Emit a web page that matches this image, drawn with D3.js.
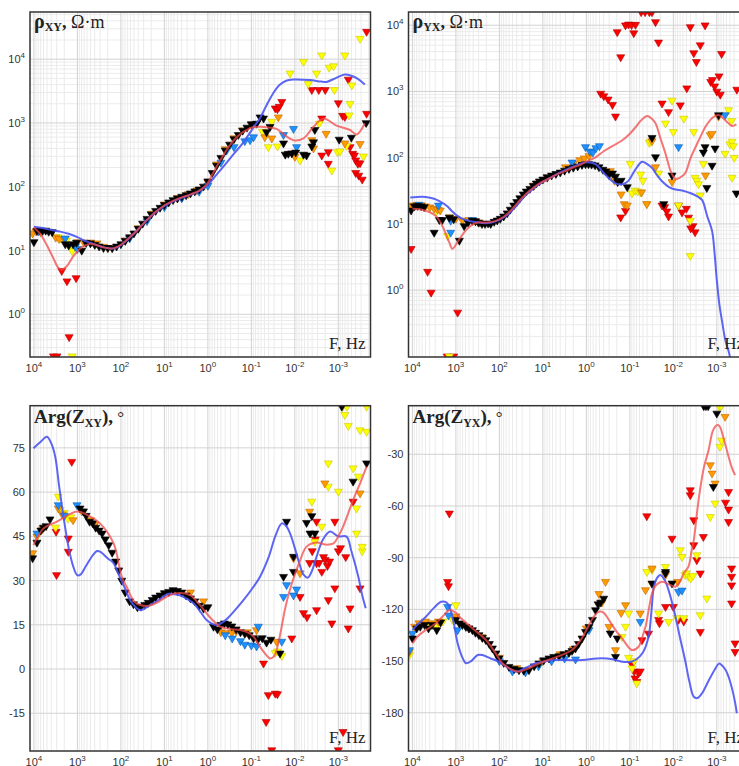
<!DOCTYPE html>
<html>
<head>
<meta charset="utf-8">
<script src="https://cdn.jsdelivr.net/npm/d3@7"></script>
<style>
  body { margin: 0; background: #fff; }
  svg { display: block; }
  .tick-label { font-family: "Liberation Sans", Arial, sans-serif; font-size: 11px; fill: #333; }
  .title { font-family: "Liberation Serif", "Times New Roman", serif; fill: #222; }
</style>
</head>
<body>
<svg id="chart" width="739" height="766"></svg>
<script>
// every point is [log10 F (Hz), value]

// ---- rho_xy, Ohm*m ----
const rhoXYBlack = [[4.0,13.6],[3.93,20.5],[3.87,20.8],[3.8,20.3],[3.73,20.6],[3.66,19.8],[3.58,19.5],[3.28,12.6],[3.2,12.0],[3.1,12.6],[3.02,13.3],[2.9,10.0],[2.8,13.2],[2.7,13.0],[2.6,12.3],[2.5,11.6],[2.4,11.0],[2.3,11.0],[2.2,10.9],[2.1,11.6],[2.0,12.6],[1.9,14.2],[1.8,16.2],[1.7,18.6],[1.6,22.0],[1.5,26.5],[1.4,31.5],[1.3,37],[1.2,42],[1.1,47],[1.0,52],[0.9,57],[0.8,62],[0.7,66],[0.6,70],[0.5,74],[0.4,79],[0.3,85],[0.2,91],[0.1,101],[0.0,122],[-0.1,165],[-0.2,215],[-0.3,285],[-0.4,370],[-0.5,460],[-0.6,560],[-0.7,650],[-0.8,760],[-0.9,850],[-1.0,960],[-1.12,980],[-1.2,1230],[-1.28,1180],[-1.35,720],[-1.43,870],[-1.74,480],[-1.78,320],[-1.85,330],[-1.93,335],[-2.02,345],[-2.2,320],[-2.27,310],[-2.39,430],[-2.43,500],[-2.46,780],[-3.02,550],[-3.3,590],[-3.64,1000]];
const rhoXYOrange = [[4.03,18.6],[3.95,20],[3.85,19.5],[3.5,16],[3.42,15.2],[3.3,15],[3.0,13.5],[2.85,13.4],[2.7,13.4],[2.55,13],[2.4,11.5],[2.3,11],[1.9,14.5],[1.6,22.5],[1.3,38],[1.0,53],[0.7,67],[0.45,77],[0.25,88],[0.0,118],[-0.2,225],[-0.4,390],[-0.6,580],[-0.8,770],[-1.0,950],[-1.31,600],[-1.47,575],[-1.62,1230],[-2.0,295],[-2.39,540],[-2.43,400],[-2.72,680],[-3.15,480],[-3.5,470]];
const rhoXYYellow = [[3.45,16.3],[3.38,15.5],[3.25,14.5],[3.17,11.5],[3.12,9.8],[3.12,0.22],[-1.26,730],[-1.39,420],[-1.47,1050],[-1.6,430],[-1.89,6000],[-2.12,260],[-2.2,9100],[-2.31,4100],[-2.5,6000],[-2.56,980],[-2.62,11500],[-2.79,7400],[-2.85,180],[-2.89,7800],[-2.91,3300],[-2.98,350],[-3.04,360],[-3.15,11500],[-3.19,440],[-3.25,1320],[-3.27,2000],[-3.31,3900],[-3.5,21000],[-3.58,300]];
const rhoXYBlue = [[3.9,20],[3.28,15.5],[3.05,11.5],[3.0,10.6],[1.8,15.5],[1.4,29],[1.0,48],[0.6,66],[0.2,84],[0.0,104],[-0.3,240],[-0.43,370],[-0.6,420],[-0.85,520],[-0.97,540],[-1.05,600],[-1.74,650],[-1.97,810],[-2.04,420]];
const rhoXYRed = [[3.36,4.8],[3.24,3.3],[3.03,3.7],[3.19,0.44],[3.55,0.22],[3.47,0.22],[-1.55,1700],[-1.6,1650],[-1.64,1800],[-1.7,2150],[-2.39,3300],[-2.55,3300],[-2.7,3300],[-2.62,1180],[-2.62,310],[-2.77,350],[-2.77,230],[-3.0,2050],[-3.1,1300],[-3.15,1250],[-3.23,4800],[-3.27,420],[-3.33,330],[-3.37,310],[-3.4,260],[-3.45,230],[-3.5,235],[-3.4,165],[-3.47,150],[-3.55,130],[-3.65,1400],[-3.65,27000]];
const rhoXYCurveBlue = [[4.0,23.6],[3.8,22.5],[3.6,21],[3.4,19.8],[3.2,18.3],[3.0,16.2],[2.86,14.5],[2.7,13.2],[2.5,11.8],[2.3,10.9],[2.2,10.7],[2.1,11.1],[2.0,12.1],[1.8,15.8],[1.6,21.5],[1.4,30],[1.2,40],[1.0,50],[0.8,59],[0.6,67],[0.4,75],[0.2,85],[0.0,108],[-0.2,155],[-0.4,225],[-0.6,330],[-0.8,480],[-1.05,850],[-1.2,1200],[-1.35,1900],[-1.5,2900],[-1.64,3900],[-1.8,4600],[-1.97,4800],[-2.35,4700],[-2.6,4450],[-2.73,4400],[-2.95,5100],[-3.15,5750],[-3.3,5500],[-3.45,4900],[-3.61,4000]];
const rhoXYCurveRed = [[4.0,23],[3.85,18],[3.7,12],[3.55,7.5],[3.45,5.5],[3.36,5.0],[3.25,5.6],[3.1,8],[2.95,10.6],[2.85,11.8],[2.7,12.8],[2.6,12.4],[2.5,11.8],[2.4,11.2],[2.3,10.9],[2.2,10.8],[2.1,11.3],[2.0,12.3],[1.9,14],[1.8,16],[1.7,18.5],[1.6,21.5],[1.5,25.5],[1.4,30],[1.3,35],[1.2,40.5],[1.1,45.5],[1.0,51],[0.8,60],[0.6,68],[0.4,76],[0.2,87],[0.1,97],[0.0,115],[-0.1,155],[-0.2,205],[-0.3,270],[-0.4,350],[-0.5,440],[-0.6,540],[-0.7,630],[-0.8,710],[-0.9,780],[-1.0,840],[-1.2,870],[-1.4,850],[-1.58,810],[-1.8,620],[-1.97,535],[-2.2,575],[-2.43,870],[-2.66,1175],[-2.96,910],[-3.27,775],[-3.42,660],[-3.61,980]];

// ---- rho_yx, Ohm*m ----
const rhoYXBlack = [[4.03,16],[3.95,18.5],[3.88,18.8],[3.8,18.5],[3.73,18],[3.5,7.4],[3.38,11.5],[3.31,11.5],[3.15,12.5],[3.05,11.8],[2.92,5.6],[2.81,9.3],[2.72,10.5],[2.62,11.2],[2.55,11],[2.48,10.5],[2.4,10],[2.33,10],[2.26,10.2],[2.2,10],[2.12,10.8],[2.05,11.3],[1.98,12],[1.9,13],[1.82,14.5],[1.75,16.5],[1.67,19],[1.6,21.5],[1.53,24.5],[1.45,28],[1.38,31],[1.3,34],[1.22,37.5],[1.15,41],[1.08,44],[1.0,47],[0.9,51],[0.8,54],[0.7,57],[0.6,60],[0.5,64],[0.4,68],[0.3,71],[0.2,74],[0.1,78],[0.02,80],[-0.05,80],[-0.12,79],[-0.2,77],[-0.29,72],[-0.38,66],[-0.45,62],[-0.52,55],[-0.6,58],[-0.67,52],[-0.72,43],[-0.8,45],[-0.94,36],[-1.51,200],[-1.59,102],[-1.78,20],[-1.97,54],[-2.69,120],[-2.73,145],[-2.77,35],[-2.89,76],[-2.96,138],[-3.04,440],[-3.45,29]];
const rhoYXOrange = [[4.05,18],[3.98,19],[3.9,19.5],[3.8,19.2],[3.7,18.5],[3.6,17.8],[3.5,17],[3.42,16.5],[3.36,16],[3.15,12.6],[3.0,12],[2.85,11.2],[2.7,11.5],[2.55,11],[2.45,10.5],[1.2,38],[0.9,50],[0.48,72],[0.3,82],[0.15,92],[0.05,98],[-0.06,106],[-0.55,63],[-0.65,45],[-0.8,28],[-0.87,20],[-0.94,19],[-1.27,30],[-1.39,20],[-1.51,178],[-1.59,72],[-1.97,43],[-2.74,54],[-2.85,220],[-2.89,230],[-3.04,420]];
const rhoYXYellow = [[3.45,15.5],[3.15,12.6],[3.19,6.6],[3.15,0.1],[-1.01,81],[-1.05,29],[-1.12,32],[-1.18,31],[-1.24,30],[-1.25,56],[-1.3,45],[-1.39,20],[-1.45,167],[-1.47,175],[-1.66,58],[-1.82,330],[-1.97,730],[-2.0,245],[-2.12,19],[-2.24,390],[-2.39,11.2],[-2.39,3.3],[-2.47,245],[-2.5,50],[-2.54,45],[-2.58,40],[-2.62,27],[-2.69,81],[-3.19,115],[-3.27,525],[-3.34,360],[-3.3,160],[-3.35,175],[-3.38,150],[-3.4,100],[-3.35,50]];
const rhoYXBlue = [[3.85,19.5],[3.4,19],[3.12,11.2],[3.12,7.4],[2.62,11.5],[0.33,85],[0.02,145],[-0.08,125],[-0.15,120],[-0.22,140],[-0.3,150],[-2.12,145],[-3.19,440]];
const rhoYXRed = [[4.03,4.2],[3.65,1.9],[3.57,0.92],[2.96,0.46],[3.2,0.1],[3.05,0.1],[-0.33,930],[-0.4,850],[-0.5,760],[-0.6,630],[-0.67,420],[-0.71,7900],[-0.79,3300],[-0.79,12.6],[-0.9,10000],[-0.97,10300],[-1.04,10100],[-1.09,7600],[-1.13,10200],[-0.9,15.8],[-1.26,15800],[-1.35,15800],[-1.45,15800],[-1.51,15800],[-1.59,11200],[-1.66,5500],[-1.74,660],[-1.74,19],[-1.8,18],[-1.85,15.5],[-1.89,490],[-1.89,13],[-2.12,19],[-2.16,620],[-2.2,15],[-2.3,17],[-2.35,12.5],[-2.31,1120],[-2.39,9400],[-2.47,3800],[-2.53,2800],[-2.62,5000],[-2.73,10000],[-2.86,1400],[-2.9,1500],[-2.95,1200],[-3.0,1000],[-3.05,1700],[-3.08,900],[-3.11,3700],[-3.46,1070],[-2.45,9.3],[-2.5,7.5],[-2.4,8.6]];
const rhoYXCurveBlue = [[4.05,25],[3.9,25.5],[3.7,25.5],[3.5,24],[3.38,22],[3.2,18.5],[3.1,15.8],[2.95,13],[2.8,11.6],[2.6,10.8],[2.4,10.3],[2.2,10.4],[2.0,11.5],[1.8,14],[1.6,19],[1.4,27],[1.2,35],[1.0,43],[0.8,51],[0.6,60],[0.4,69],[0.2,78],[0.0,85],[-0.21,80],[-0.44,55],[-0.67,41],[-0.85,40],[-0.97,45],[-1.12,65],[-1.28,87],[-1.4,80],[-1.51,70],[-1.62,55],[-1.74,44],[-1.9,36],[-2.05,33],[-2.2,32],[-2.4,29],[-2.55,26],[-2.66,23],[-2.78,13],[-2.89,7.9],[-2.95,3.5],[-3.0,1.4],[-3.06,0.6],[-3.12,0.34],[-3.2,0.17],[-3.27,0.12],[-3.35,0.07]];
const rhoYXCurveRed = [[4.0,17],[3.8,16.5],[3.6,15],[3.45,13],[3.3,9],[3.15,5.2],[3.08,4.2],[2.95,5.5],[2.8,7.6],[2.65,9.5],[2.5,10.5],[2.3,10.5],[2.1,11],[1.9,12.8],[1.7,17],[1.5,24],[1.3,32],[1.1,40],[0.9,47],[0.7,55],[0.5,62],[0.3,71],[0.1,80],[0.0,88],[-0.2,100],[-0.4,125],[-0.6,150],[-0.82,182],[-1.0,230],[-1.13,288],[-1.25,360],[-1.4,425],[-1.5,390],[-1.59,330],[-1.7,200],[-1.82,115],[-1.95,60],[-2.05,48],[-2.15,50],[-2.27,58],[-2.4,100],[-2.58,180],[-2.75,300],[-2.9,400],[-3.04,440],[-3.15,390],[-3.27,330],[-3.35,300],[-3.45,320]];

// ---- Arg(Z_xy), degrees ----
const argXYBlack = [[4.03,37.6],[3.93,42.9],[3.84,47],[3.78,48],[3.72,48.5],[3.63,50.8],[2.94,54.5],[2.86,53.5],[2.8,52],[2.72,50],[2.65,49.5],[2.58,48],[2.5,47],[2.43,46],[2.36,44],[2.28,42],[2.2,39.5],[2.12,36.5],[2.05,33.5],[1.98,30],[1.9,26],[1.8,23],[1.71,22],[1.62,21],[1.54,21.2],[1.45,21.8],[1.37,22.5],[1.28,23.5],[1.2,24.3],[1.1,25],[1.0,25.8],[0.9,26.2],[0.8,26.8],[0.7,26.5],[0.6,26],[0.5,25],[0.4,24],[0.3,23],[0.2,21.5],[0.1,20.5],[0.0,21],[-0.13,14.4],[-0.22,13.5],[-0.3,15],[-0.38,15.5],[-0.46,15.2],[-0.55,14.5],[-0.65,13.5],[-0.75,12.5],[-0.85,12],[-0.95,11.5],[-1.05,10.5],[-1.15,10],[-1.25,10.5],[-1.35,9],[-1.45,10],[-1.66,5.3],[-1.74,31.3],[-1.81,50],[-1.97,38.1],[-1.97,33],[-2.27,49.6],[-2.35,46],[-2.39,51.9],[-2.46,46],[-3.08,89],[-3.34,63.6],[-3.65,69.8]];
const argXYOrange = [[4.03,39.3],[3.93,45],[3.8,47.5],[3.44,54.5],[3.35,52.5],[3.1,50.5],[2.9,53.5],[2.7,50.5],[2.6,49],[0.4,26],[0.1,23],[-0.3,12.5],[-0.4,12.2],[-0.55,12.3],[-0.65,12.8],[-0.9,12.5],[-1.12,13.2],[-1.58,9.3],[-2.12,32.5],[-1.97,37.6],[-2.34,53.4],[-2.69,63],[-3.5,59.6]];
const argXYYellow = [[3.44,58.5],[3.5,48],[3.4,54],[3.3,53],[3.22,51],[3.15,51.5],[-1.55,5.5],[-1.6,6],[-1.7,4.5],[-2.39,56.8],[-2.46,43.2],[-2.62,48.3],[-2.77,69.8],[-2.77,61.9],[-3.0,60.2],[-3.1,89],[-3.2,89],[-3.15,86.2],[-3.23,82.5],[-3.34,68.1],[-3.46,65.3],[-3.42,54.5],[-3.42,46],[-3.5,81],[-3.65,80.5],[-3.55,40],[-3.55,41.5],[-3.65,89]];
const argXYBlue = [[3.93,46],[3.44,55.6],[3.3,52],[3.01,55.6],[-0.4,11.5],[-0.56,10.4],[-0.75,9.5],[-0.85,8.3],[-1.0,8],[-1.12,7.7],[-1.16,14.4],[-1.7,9.3],[-1.74,24.5],[-1.81,28.5],[-1.97,25],[-2.04,27]];
const argXYRed = [[3.49,46.6],[3.48,31.9],[3.21,44.3],[3.21,39.8],[3.13,70.3],[-1.28,1.9],[-1.39,-8.8],[-1.55,-8.3],[-1.6,-8.5],[-1.34,-17.9],[-1.47,-27.5],[-1.93,10.4],[-2.12,24.5],[-2.2,19],[-2.28,17.6],[-2.5,20],[-2.62,33],[-2.77,23.4],[-2.85,15.5],[-2.92,27.4],[-3.23,13.8],[-3.27,20.6],[-3.5,27.4],[-3.11,-21.3],[-3.0,-27.5],[-2.5,50],[-2.92,50],[-3.34,56.8],[-2.34,36],[-2.4,40],[-2.47,44],[-2.5,35.9],[-2.56,36],[-2.66,38],[-2.7,37],[-2.75,35],[-2.8,36.5],[-3.0,40],[-3.05,41],[-3.17,38]];
const argXYCurveBlue = [[4.01,74.9],[3.85,77],[3.7,78.8],[3.6,76.5],[3.51,72],[3.42,62],[3.32,51.7],[3.2,41],[3.1,35],[3.01,31.9],[2.94,31.9],[2.8,35],[2.65,38.5],[2.55,40],[2.48,39.8],[2.3,37.5],[2.17,35.9],[2.05,32],[1.94,28.5],[1.75,22.5],[1.56,20],[1.35,21.5],[1.17,23],[0.9,25.5],[0.65,25],[0.45,23.5],[0.33,22.3],[0.15,19],[0.03,16.6],[-0.2,14.9],[-0.4,16.5],[-0.59,19.4],[-0.8,23],[-1.05,27.9],[-1.2,31.3],[-1.4,38],[-1.55,45],[-1.7,49.4],[-1.8,48.5],[-1.89,46],[-2.0,41],[-2.1,36],[-2.2,32],[-2.3,31],[-2.4,33.5],[-2.5,38.1],[-2.65,44],[-2.81,46.6],[-3.0,45],[-3.19,44.9],[-3.3,40],[-3.46,31.3],[-3.55,25],[-3.63,20.6]];
const argXYCurveRed = [[4.01,42],[3.78,47.7],[3.47,50],[3.01,53.4],[2.78,52.3],[2.48,49.4],[2.17,42.7],[1.98,31.3],[1.87,27.9],[1.7,23],[1.56,21.7],[1.35,21.5],[1.17,22.5],[0.95,24.5],[0.72,25.7],[0.41,25.1],[0.2,22],[0.03,18.9],[-0.15,16],[-0.28,14.4],[-0.5,13.6],[-0.74,13.2],[-0.9,12.5],[-1.05,11],[-1.18,8],[-1.28,5.9],[-1.43,3.6],[-1.52,4.3],[-1.6,7.5],[-1.68,13],[-1.77,20],[-1.87,26],[-1.97,30.8],[-2.1,36],[-2.27,41.5],[-2.5,42.9],[-2.7,42.2],[-2.89,42.6],[-3.0,45],[-3.11,48.3],[-3.34,57.3],[-3.5,63],[-3.65,68.6]];

// ---- Arg(Z_yx), degrees ----
const argYXBlack = [[4.0,-136.8],[3.9,-131],[3.82,-130],[3.72,-129],[3.63,-131],[3.55,-129],[3.44,-132],[3.35,-127.5],[3.0,-126],[2.92,-128.1],[2.85,-129],[2.77,-130.1],[2.7,-131],[2.62,-132],[2.55,-133.5],[2.47,-134.9],[2.39,-136.5],[2.31,-137.8],[2.23,-140],[2.16,-142.6],[2.08,-145.5],[2.01,-148.4],[1.9,-151],[1.78,-153.3],[1.66,-154.5],[1.55,-155.2],[1.44,-155.5],[1.32,-155.2],[1.2,-153],[1.09,-151.3],[0.98,-149.5],[0.86,-148.4],[0.75,-147.5],[0.63,-147.1],[0.52,-146],[0.4,-145.2],[0.33,-144],[0.25,-142.6],[0.18,-140],[0.1,-136.8],[0.02,-133],[-0.06,-130.1],[-0.14,-126],[-0.21,-120.4],[-0.27,-117],[-0.33,-116],[-0.4,-113.7],[-0.55,-133.9],[-0.71,-136.8],[-0.67,-147.5],[-1.51,-104.9],[-1.82,-99.1],[-1.97,-104.9],[-1.82,-98.2],[-2.7,-2],[-2.75,-2],[-2.8,-2],[-3.0,-6.3],[-2.92,-48.9]];
const argYXOrange = [[4.07,-144.6],[3.95,-130],[3.85,-128],[3.7,-127],[3.55,-128],[3.4,-127],[3.0,-124],[2.7,-131],[2.4,-136],[2.0,-148],[1.6,-154],[1.0,-150],[0.6,-146],[0.3,-143],[0.0,-131],[-0.29,-111],[-0.36,-116],[-0.44,-104],[-0.52,-130.1],[-0.67,-143.6],[-0.8,-122],[-0.9,-117.5],[-1.24,-122.3],[-1.36,-108.8],[-1.51,-105.2],[-1.51,-96.2],[-1.82,-100],[-2.1,-104],[-2.85,-36.3],[-2.89,-41.1],[-2.96,-46.9],[-3.19,-8.2]];
const argYXYellow = [[4.07,-146.5],[3.57,-129.1],[3.45,-130],[3.3,-127],[3.08,-126],[3.0,-117.5],[-0.82,-135.9],[-0.9,-130],[-0.97,-122.3],[-0.97,-148],[-1.05,-154.2],[-1.16,-162.9],[-1.1,-150],[-1.39,-98.2],[-1.51,-97],[-1.66,-122.3],[-1.82,-95.3],[-1.89,-127.2],[-2.08,-125],[-2.16,-85.6],[-2.2,-89.5],[-2.24,-125],[-2.27,-100],[-2.3,-99],[-2.35,-101],[-2.4,-102],[-2.45,-100.5],[-2.54,-88.5],[-2.62,-123.3],[-2.77,-113.6],[-2.85,-66.3],[-2.96,-58.5],[-3.07,-25.6],[-3.11,-22],[-3.05,-2],[-3.1,-2]];
const argYXBlue = [[4.07,-143.6],[4.0,-134],[3.19,-118.5],[3.17,-123.5],[2.96,-132],[2.0,-150],[1.7,-156],[1.4,-156.5],[1.1,-153],[0.8,-150],[0.5,-148.5],[0.25,-149],[-0.06,-132],[-1.24,-127.2],[-2.12,-109.8],[-2.2,-109]];
const argYXRed = [[3.15,-64.3],[3.19,-104],[3.17,-106.5],[-1.39,-65.9],[-1.97,-78.9],[-2.39,-50.8],[-2.39,-53.7],[-2.47,-68.2],[-2.47,-82.7],[-2.54,-91.4],[-2.62,-99.1],[-2.69,-77.9],[-3.27,-51.8],[-3.2,-58],[-3.27,-62],[-3.27,-69.2],[-3.34,-96.2],[-1.05,-152],[-1.1,-156],[-1.16,-162],[-1.2,-157],[-1.12,-160],[-1.24,-156],[-1.28,-137.8],[-1.43,-134],[-1.66,-126],[-1.68,-128],[-1.82,-118.5],[-2.0,-118.5],[-2.12,-126],[-2.24,-127],[-2.62,-133],[-3.34,-101],[-3.34,-106],[-3.34,-116.5],[-3.42,-139.7],[-3.42,-144.6]];
const argYXCurveBlue = [[4.0,-132],[3.85,-128],[3.69,-124.3],[3.5,-119],[3.34,-115.6],[3.22,-116],[3.15,-118.5],[3.05,-128],[2.96,-139.7],[2.85,-148],[2.77,-151.3],[2.65,-150],[2.5,-146.5],[2.39,-146.5],[2.2,-148.5],[2.01,-150.4],[1.8,-154],[1.62,-156.2],[1.4,-154],[1.17,-151.3],[0.9,-150],[0.71,-149.4],[0.2,-149.5],[-0.36,-148.4],[-0.6,-149],[-0.82,-150.4],[-1.0,-150.5],[-1.13,-149.4],[-1.3,-145],[-1.43,-135.9],[-1.5,-120],[-1.55,-107],[-1.62,-102],[-1.7,-100.1],[-1.8,-103],[-1.89,-108.8],[-1.97,-116],[-2.05,-124.3],[-2.15,-136],[-2.27,-149.4],[-2.37,-162],[-2.47,-170.7],[-2.55,-171.5],[-2.66,-168.7],[-2.8,-162],[-2.95,-155],[-3.05,-151.5],[-3.11,-152.3],[-3.2,-155],[-3.27,-159.1],[-3.35,-166],[-3.42,-174],[-3.46,-180.3]];
const argYXCurveRed = [[4.0,-139.7],[3.85,-135],[3.69,-132],[3.46,-128.1],[3.3,-124],[3.15,-120.4],[3.0,-122],[2.92,-124.3],[2.62,-131],[2.31,-137.8],[2.1,-145],[1.93,-151.3],[1.75,-154.5],[1.55,-156.2],[1.35,-154.5],[1.17,-152.3],[0.95,-150],[0.71,-147.9],[0.33,-143.6],[0.15,-138.5],[0.02,-133],[-0.15,-125],[-0.29,-121.4],[-0.4,-122],[-0.52,-126.2],[-0.67,-132],[-0.82,-136.8],[-1.05,-143.6],[-1.2,-141.7],[-1.3,-135],[-1.36,-130.1],[-1.45,-118],[-1.51,-110.7],[-1.6,-106],[-1.74,-104],[-1.9,-105.5],[-2.05,-106.9],[-2.15,-104],[-2.24,-99.1],[-2.35,-95],[-2.42,-86],[-2.47,-79.8],[-2.58,-56.6],[-2.7,-38],[-2.81,-27.6],[-2.9,-17],[-2.96,-14],[-3.02,-13],[-3.07,-14],[-3.17,-22],[-3.27,-31.4],[-3.35,-38],[-3.42,-42.1]];

// tick values
const freqTicks = [4, 3, 2, 1, 0, -1, -2, -3];
const rhoTicks = [0, 1, 2, 3, 4];
const argXYTicks = [-15, 0, 15, 30, 45, 60, 75];
const argYXTicks = [-180, -150, -120, -90, -60, -30];

const colors = {
  red: ["#ff0000", "#b00000"],
  yellow: ["#ffff00", "#c8c800"],
  orange: ["#ff9a00", "#c06800"],
  blue: ["#1e90ff", "#0b5fb0"],
  black: ["#000000", "#000000"]
};

const W = 340.5;
const xDomain = [10 ** 4.09, 10 ** -3.74];

const panels = [
  { left: 30, top: 12, h: 345, log: true, yDomain: [10 ** -0.67, 10 ** 4.74], yTicks: rhoTicks, title: "rho", sub: "XY",
    markers: [["red", rhoXYRed], ["yellow", rhoXYYellow], ["orange", rhoXYOrange], ["blue", rhoXYBlue], ["black", rhoXYBlack]],
    curves: [rhoXYCurveBlue, rhoXYCurveRed] },
  { left: 408.5, top: 12, h: 345, log: true, yDomain: [10 ** -1.01, 10 ** 4.2], yTicks: rhoTicks, title: "rho", sub: "YX",
    markers: [["red", rhoYXRed], ["yellow", rhoYXYellow], ["orange", rhoYXOrange], ["blue", rhoYXBlue], ["black", rhoYXBlack]],
    curves: [rhoYXCurveBlue, rhoYXCurveRed] },
  { left: 30, top: 405.7, h: 345.3, log: false, yDomain: [-27.8, 89.3], yTicks: argXYTicks, title: "arg", sub: "XY",
    markers: [["red", argXYRed], ["yellow", argXYYellow], ["orange", argXYOrange], ["blue", argXYBlue], ["black", argXYBlack]],
    curves: [argXYCurveBlue, argXYCurveRed] },
  { left: 408.5, top: 405.7, h: 345.3, log: false, yDomain: [-202.2, -1.8], yTicks: argYXTicks, title: "arg", sub: "YX",
    markers: [["red", argYXRed], ["yellow", argYXYellow], ["orange", argYXOrange], ["blue", argYXBlue], ["black", argYXBlack]],
    curves: [argYXCurveBlue, argYXCurveRed] }
];

const svg = d3.select("#chart");
const tri = d3.symbol(d3.symbolTriangle, 28)();

function powLabel(sel, exp) {
  sel.append("tspan").text("10");
  sel.append("tspan").attr("font-size", 8).attr("dy", -5).text(exp);
}

panels.forEach((p, i) => {
  const g = svg.append("g").attr("transform", `translate(${p.left},${p.top})`);
  const x = d3.scaleLog().domain(xDomain).range([0, W]);
  const y = p.log
    ? d3.scaleLog().domain(p.yDomain).range([p.h, 0])
    : d3.scaleLinear().domain(p.yDomain).range([p.h, 0]);

  // grid
  const minorX = [];
  for (let k = -4; k <= 4; k++) for (let m = 2; m <= 9; m++) minorX.push(m * 10 ** k);
  const inX = v => v <= xDomain[0] && v >= xDomain[1];
  g.append("g").selectAll("line")
    .data(minorX.filter(inX))
    .join("line")
      .attr("x1", d => x(d)).attr("x2", d => x(d))
      .attr("y1", 0).attr("y2", p.h)
      .attr("stroke", "#ebebeb");
  if (p.log) {
    const minorY = [];
    for (let k = -2; k <= 5; k++) for (let m = 2; m <= 9; m++) minorY.push(m * 10 ** k);
    g.append("g").selectAll("line")
      .data(minorY.filter(v => v >= p.yDomain[0] && v <= p.yDomain[1]))
      .join("line")
        .attr("x1", 0).attr("x2", W)
        .attr("y1", d => y(d)).attr("y2", d => y(d))
        .attr("stroke", "#ebebeb");
  }
  g.append("g").selectAll("line")
    .data(freqTicks)
    .join("line")
      .attr("x1", d => x(10 ** d)).attr("x2", d => x(10 ** d))
      .attr("y1", 0).attr("y2", p.h)
      .attr("stroke", "#d2d2d2");
  const yt = p.log ? p.yTicks.map(d => 10 ** d) : p.yTicks;
  g.append("g").selectAll("line")
    .data(yt)
    .join("line")
      .attr("x1", 0).attr("x2", W)
      .attr("y1", d => y(d)).attr("y2", d => y(d))
      .attr("stroke", "#d2d2d2");

  // tick labels
  g.append("g").selectAll("text")
    .data(freqTicks)
    .join("text")
      .attr("class", "tick-label")
      .attr("x", d => x(10 ** d))
      .attr("y", p.h + 15)
      .attr("text-anchor", "middle")
      .each(function(d) { powLabel(d3.select(this), d); });
  g.append("g").selectAll("text")
    .data(p.yTicks)
    .join("text")
      .attr("class", "tick-label")
      .attr("x", -5)
      .attr("y", d => y(p.log ? 10 ** d : d) + 4)
      .attr("text-anchor", "end")
      .each(function(d) {
        if (p.log) powLabel(d3.select(this), d);
        else d3.select(this).text(d);
      });

  // plot contents
  g.append("clipPath").attr("id", "clip" + i)
    .append("rect").attr("width", W).attr("height", p.h);
  const body = g.append("g").attr("clip-path", `url(#clip${i})`);

  p.markers.forEach(([c, data]) => {
    body.append("g").selectAll("path")
      .data(data)
      .join("path")
        .attr("d", tri)
        .attr("transform", d => `translate(${x(10 ** d[0])},${y(d[1])}) rotate(180)`)
        .attr("fill", colors[c][0])
        .attr("stroke", colors[c][1])
        .attr("stroke-width", 0.6);
  });

  const line = d3.line()
    .x(d => x(10 ** d[0]))
    .y(d => y(d[1]))
    .curve(d3.curveCatmullRom.alpha(0.5));
  body.append("path").datum(p.curves[0])
    .attr("fill", "none").attr("stroke", "#4a55f2").attr("stroke-opacity", 0.9)
    .attr("stroke-width", 2).attr("d", line);
  body.append("path").datum(p.curves[1])
    .attr("fill", "none").attr("stroke", "#f04848").attr("stroke-opacity", 0.75)
    .attr("stroke-width", 2).attr("d", line);

  // frame
  g.append("rect")
    .attr("width", W).attr("height", p.h)
    .attr("fill", "none").attr("stroke", "#333").attr("stroke-width", 1.5);

  // titles
  const t = g.append("text").attr("class", "title").attr("x", 4).attr("y", p.log ? 16 : 17);
  if (p.title === "rho") {
    t.append("tspan").attr("font-weight", "bold").attr("font-size", 20).text("ρ");
    t.append("tspan").attr("font-weight", "bold").attr("font-size", 12).attr("dy", 3).text(p.sub);
    t.append("tspan").attr("font-weight", "bold").attr("font-size", 18).attr("dy", -3).text(",");
    t.append("tspan").attr("font-size", 18).text(" Ω·m");
  } else {
    t.append("tspan").attr("font-weight", "bold").attr("font-size", 19).text("Arg(Z");
    t.append("tspan").attr("font-weight", "bold").attr("font-size", 12).attr("dy", 4).text(p.sub);
    t.append("tspan").attr("font-weight", "bold").attr("font-size", 19).attr("dy", -4).text("),");
    t.append("tspan").attr("font-size", 17).text(" °");
  }
  g.append("text").attr("class", "title")
    .attr("x", W - 5).attr("y", p.h - 8)
    .attr("text-anchor", "end")
    .attr("font-size", 17)
    .text("F, Hz");
});
</script>
</body>
</html>
